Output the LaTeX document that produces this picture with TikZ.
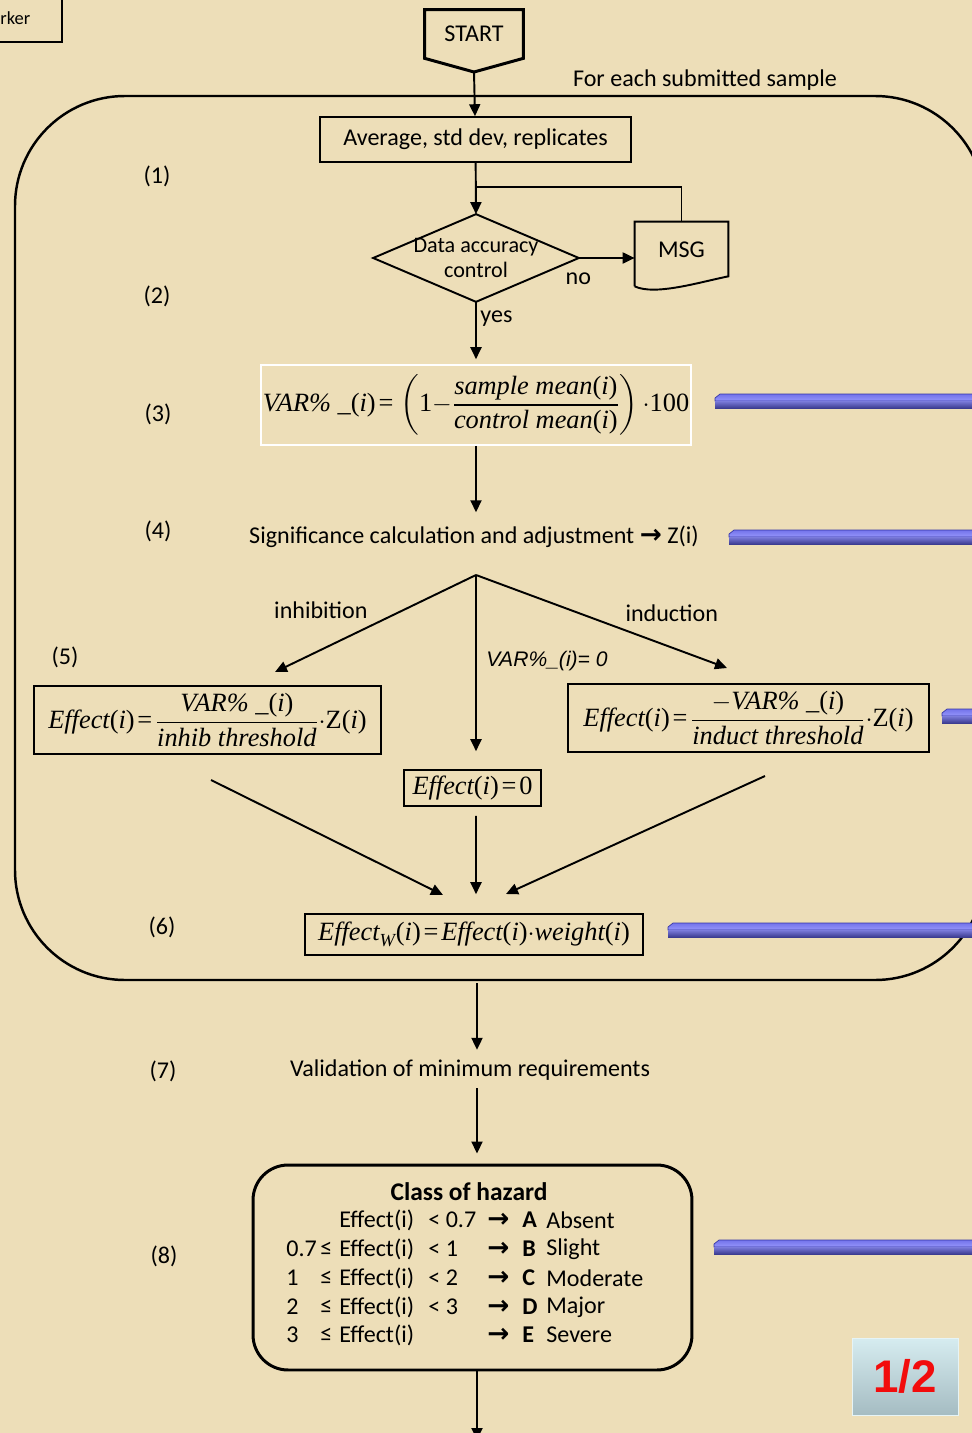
\documentclass[tikz,border=0pt]{standalone}
\usepackage{fontspec}
\setmainfont{Carlito}
\newfontfamily\tms{Liberation Serif}
\newfontfamily\arl{Liberation Sans}
\newfontfamily\djv{DejaVu Sans}
\usepackage{amsmath}
\usepackage{xcolor}
\usetikzlibrary{arrows.meta, positioning, calc}

\definecolor{parch}{RGB}{237,222,184}
\definecolor{bartop}{RGB}{115,115,235}
\definecolor{barmid}{RGB}{150,150,250}
\definecolor{barbot}{RGB}{60,60,145}
\definecolor{bardk}{RGB}{55,55,165}
\definecolor{tagtop}{RGB}{214,236,240}
\definecolor{tagbot}{RGB}{165,188,194}
\definecolor{tagred}{RGB}{242,12,12}

% formula pieces in Times
\newcommand{\vi}[1]{\text{\tms\itshape #1}}
\newcommand{\vr}[1]{\text{\tms #1}}
\newcommand{\argi}{\vr{(}\vi{i}\vr{)}}
\newcommand{\eqs}{\mkern2mu\vr{=}\mkern2mu}
\newcommand{\harr}{{\djv\bfseries\fontsize{15}{15}\selectfont →}}

\begin{document}
\begin{tikzpicture}[
    x=0.02cm, y=-0.02cm,
    arr/.style={-{Triangle[length=0.24cm, width=0.22cm]}, line width=1.1pt},
    line/.style={line width=1.1pt},
    lbl/.style={font=\fontsize{13.7}{16}\selectfont, inner sep=0.2em},
    box/.style={draw, line width=0.9pt, font=\fontsize{13.7}{16}\selectfont},
    fbox/.style={draw, line width=0.9pt, inner sep=1pt,
                 font=\fontsize{15}{18}\selectfont},
    hrow/.style={lbl, anchor=west, inner sep=0},
    tag/.style={top color=tagtop, bottom color=tagbot, draw=tagtop!60!white,
                text=tagred, font=\arl\bfseries\fontsize{26}{28}\selectfont}
  ]
    \fill[parch] (0,0) rectangle (972,1433);
    \useasboundingbox (0,0) rectangle (972,1433);

    % cut-off box in the corner
    \draw[line] (-10,42) -| (62,-10);
    \node[lbl, anchor=west, inner sep=0, font=\fontsize{10.5}{12}\selectfont] (mk) at (0,18) {rker};

    % start
    \node[lbl, minimum width=1.96cm, minimum height=0.96cm] (start) at (474,34) {START};
    \coordinate (startpt) at (474,72);
    \draw[line width=1.7pt, line join=miter] (start.south west) -- (start.north west)
      -- (start.north east) -- (start.south east) -- (startpt) -- cycle;
    \node[lbl] (each) at (705,80) {For each submitted sample};

    % loop frame
    \draw[line width=1.4pt, rounded corners=2.2cm] (15,96) rectangle (985,980);

    % (1) and (2)
    \node[box, minimum width=6.22cm, minimum height=0.9cm] (avg) at (475.5,139.5)
      {Average, std dev, replicates};
    \draw[arr] (startpt) -- (avg);

    \node[lbl, minimum width=4.1cm, minimum height=1.74cm, align=center,
          font=\fontsize{12.6}{14}\selectfont] (dac) at (476,258) {Data accuracy\\control};
    \draw[line width=1.1pt] (dac.west) -- (dac.north) -- (dac.east) -- (dac.south) -- cycle;

    \node[lbl, minimum width=1.86cm, minimum height=1.12cm] (msg) at (681.5,250) {MSG};
    \draw[line width=1.1pt] ($(msg.south west)+(0,8)$) -- (msg.north west) -- (msg.north east)
      -- ($(msg.south east)+(0,-2)$) .. controls (700,282) and (655,296) .. ($(msg.south west)+(0,8)$);

    \coordinate (jn) at (476,187);
    \draw[arr] (avg) -- (dac.north);
    \draw[line] (msg.north) |- (jn);
    \draw[arr] (dac.east) -- node[lbl, pos=0, below right, yshift=-6pt, xshift=-10pt] {no} (dac.east -| msg.west);

    % (3)
    \node[fbox, draw=white, minimum width=8.48cm, minimum height=1.6cm] (f3) at (476,405)
      {$\vi{VAR\% \_}\argi\eqs\left(\vr{1}{-}\dfrac{\vi{sample mean}\argi}{\vi{control mean}\argi}\right){\cdot}\vr{100}$};
    \draw[arr] (dac.south) -- node[lbl, pos=0.3, right] {yes} ($(f3.north)+(0,-5)$);

    % (4)
    \node[lbl] (sig) at (474,537) {Significance calculation and adjustment \harr\ Z(i)};
    \draw[arr] (f3.south) -- ($(f3.south |- sig.north)+(0,-10)$);

    % (5)
    \coordinate (sp) at (476,575);
    \coordinate (inh) at (275,672);
    \coordinate (ind) at (727,668);
    \node[fbox, minimum width=6.94cm, minimum height=1.36cm] (f5l) at (207.5,720)
      {$\vi{Effect}\argi\eqs\dfrac{\vi{VAR\% \_}\argi}{\vi{inhib threshold}}{\cdot}\vr{Z}\argi$};
    \node[fbox, minimum width=7.22cm, minimum height=1.36cm] (f5r) at (748.5,718)
      {$\vi{Effect}\argi\eqs\dfrac{{-}\vi{VAR\% \_}\argi}{\vi{induct threshold}}{\cdot}\vr{Z}\argi$};
    \node[fbox, minimum width=2.74cm, minimum height=0.72cm] (f5m) at (472.5,788)
      {$\vi{Effect}\argi\eqs\vr{0}$};
    \draw[arr] (sp) -- node[lbl, pos=0.5, above left, xshift=-2pt] {inhibition} (inh);
    \draw[arr] (sp) -- node[lbl, pos=0.55, above right, xshift=4pt] {induction} (ind);
    \draw[arr] (sp) -- node[pos=0.49, right, xshift=2pt,
      font=\arl\itshape\fontsize{12}{13}\selectfont] {VAR\%\_(i)= 0} ($(f5m.north)+(3.5,-18)$);

    % (6)
    \node[fbox, minimum width=6.76cm, minimum height=0.82cm] (f6) at (474,934.5)
      {$\vi{Effect}_{\vi{W}}\argi\eqs\vi{Effect}\argi{\cdot}\vi{weight}\argi$};
    \coordinate (c1) at (211,780);
    \coordinate (c2) at (765,776);
    \draw[arr] (c1) -- (443,895);
    \draw[arr] ($(f5m.south)+(3.5,9)$) -- ($(f6.north)+(2,-19)$);
    \draw[arr] (c2) -- (506,894);

    % (7) and (8)
    \coordinate (fb) at (477,983);
    \node[lbl] (vm) at (470,1070) {Validation of minimum requirements};
    \node[draw, line width=1.7pt, rounded corners=0.7cm, minimum width=8.78cm,
          minimum height=4.1cm] (hz) at (472.5,1267.5) {};
    \coordinate (end) at (477,1440);
    \draw[arr] (fb) -- ($(fb |- vm.north)+(0,-6)$);
    \draw[arr] ($(fb |- vm.south)+(0,4)$) -- ($(fb |- hz.north)+(0,-10)$);
    \draw[arr] (fb |- hz.south) -- (end);

    \node[lbl, font=\bfseries\fontsize{14.5}{16}\selectfont] (hzt) at (469,1192) {Class of hazard};
    \foreach \yy/\num/\le/\lt/\cls/\nm [count=\k] in {
        1220/{}/{}/{< 0.7}/A/Absent,
        1249/0.7/≤/{< 1}/B/Slight,
        1278/1/≤/{< 2}/C/Moderate,
        1307/2/≤/{< 3}/D/Major,
        1335/3/≤/{}/E/Severe} {
      \node[hrow] (n\k) at (286,\yy) {\num};
      \node[hrow] (le\k) at (320,\yy) {\le};
      \node[hrow] (ef\k) at (339,\yy) {Effect(i)};
      \node[hrow] (lt\k) at (428,\yy) {\lt};
      \node[hrow] (ar\k) at (487,\yy) {\harr};
      \node[hrow] (cl\k) at (522,\yy) {\textbf{\cls}};
      \node[hrow] (nm\k) at (546,\yy) {\nm};
    }

    % step numbers
    \foreach \n/\px/\py in {1/157/176, 2/157/296, 3/158/414, 4/158/531,
                            5/65/657, 6/162/927, 7/163/1071, 8/164/1256}
      \node[lbl] (s\n) at (\px,\py) {(\n)};

    % blue bars
    \foreach \bx/\by in {715/401, 729/537, 942/716, 668/930, 714/1247} {
      \shade[top color=bartop, bottom color=barmid, draw=bardk, line width=0.4pt]
        (\bx+5,\by-7) -- (990,\by-7) -- (990,\by) -- (\bx,\by) -- (\bx,\by-3) -- cycle;
      \shade[top color=barmid!70!barbot, bottom color=barbot]
        (\bx,\by) -- (990,\by) -- (990,\by+7) -- (\bx,\by+7) -- cycle;
    }

    \node[tag, minimum width=2.12cm, minimum height=1.54cm] (pg) at (905,1376.5) {1/2};
  \end{tikzpicture}
\end{document}
